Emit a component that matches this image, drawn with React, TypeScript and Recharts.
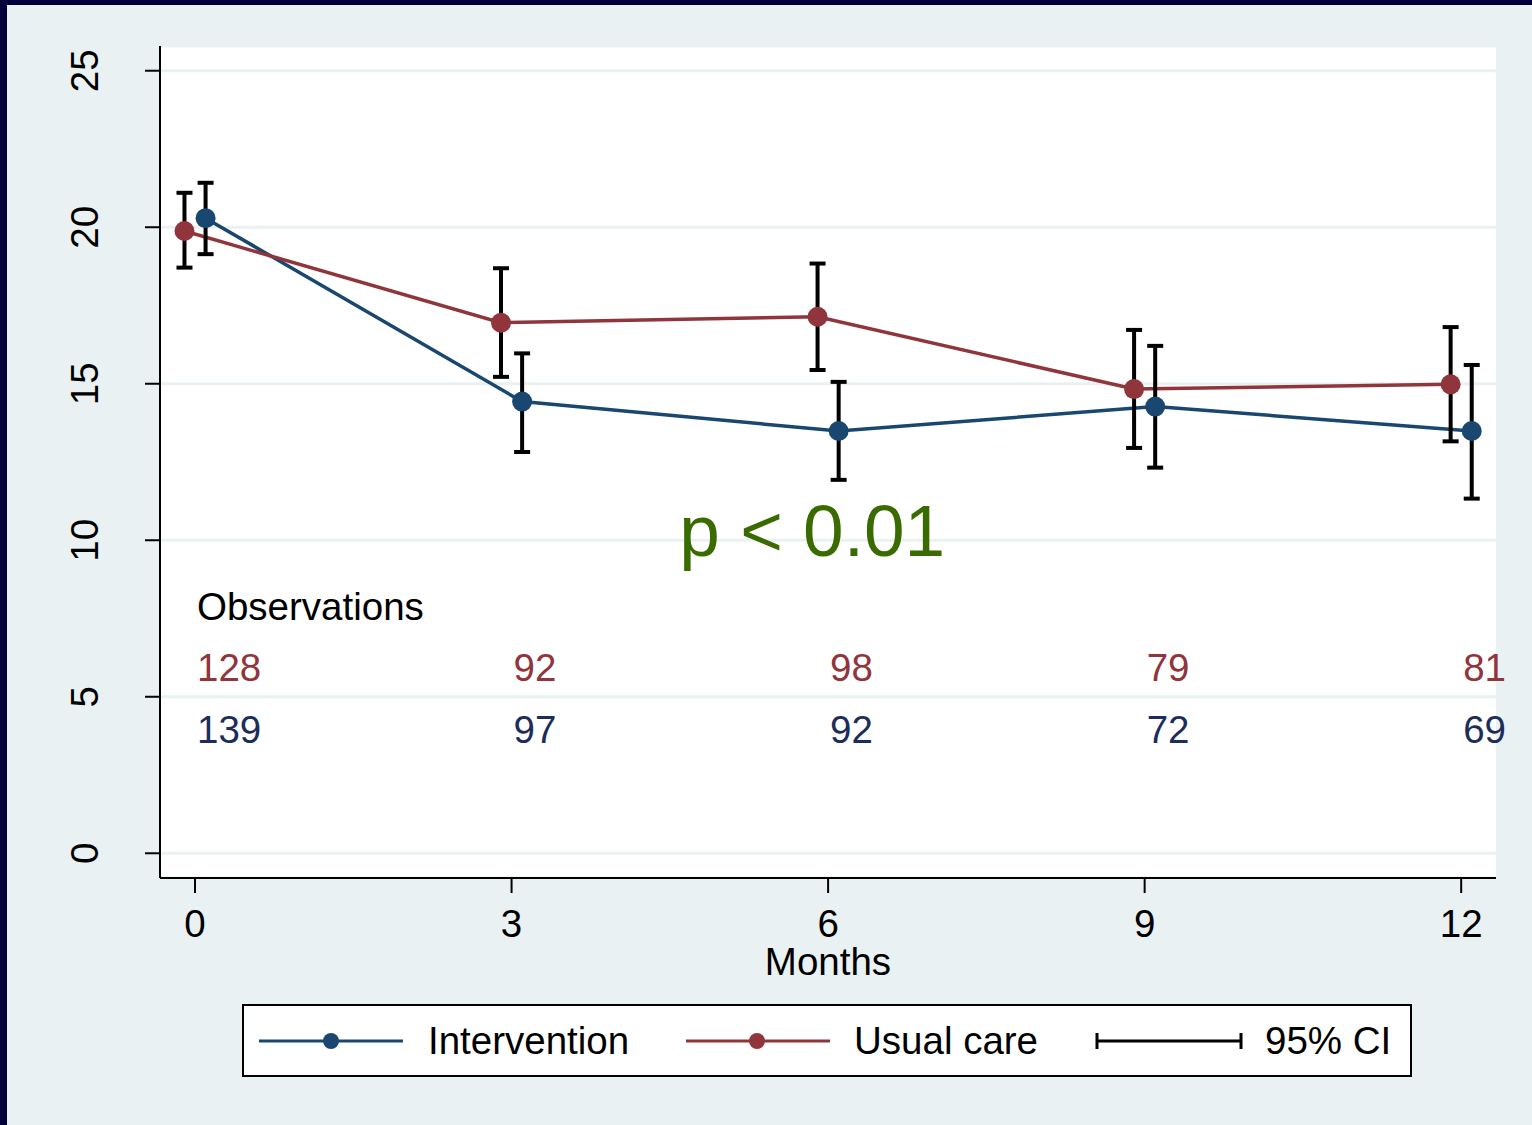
import React from "react";
import {
  ComposedChart,
  Line,
  Scatter,
  ErrorBar,
  XAxis,
  YAxis,
  CartesianGrid,
  Label,
} from "recharts";

// months on the axis
const months = [0, 3, 6, 9, 12];
const yTicks = [0, 5, 10, 15, 20, 25];

// Intervention (drawn slightly right of each month)
const interventionX = [0.1, 3.1, 6.1, 9.1, 12.1];
const interventionMean = [20.29, 14.43, 13.49, 14.27, 13.49];
const interventionLow = [19.14, 12.82, 11.93, 12.32, 11.33];
const interventionHigh = [21.42, 15.97, 15.06, 16.21, 15.6];
const interventionObs = [139, 97, 92, 72, 69];

// Usual care (drawn slightly left of each month)
const usualX = [-0.1, 2.9, 5.9, 8.9, 11.9];
const usualMean = [19.88, 16.95, 17.14, 14.83, 14.98];
const usualLow = [18.71, 15.22, 15.44, 12.95, 13.16];
const usualHigh = [21.1, 18.69, 18.84, 16.72, 16.81];
const usualObs = [128, 92, 98, 79, 81];

const BLUE = "#1a476f";
const RED = "#90353b";
const OBS_BLUE = "#1c2d5a";
const GREEN = "#3a6b00";
const BG = "#eaf1f3";
const FONT = "'Liberation Sans', Arial, sans-serif";
const FS = 38.5;

const buildSeries = (xs: number[], mean: number[], low: number[], high: number[]) =>
  xs.map((x, i) => ({
    x,
    y: mean[i],
    err: [mean[i] - low[i], high[i] - mean[i]],
  }));

const interventionData = buildSeries(interventionX, interventionMean, interventionLow, interventionHigh);
const usualData = buildSeries(usualX, usualMean, usualLow, usualHigh);

// text rows inside the plot
const usualObsRow = months.map((m, i) => ({ x: m, y: 5.5, label: String(usualObs[i]), color: RED }));
const interventionObsRow = months.map((m, i) => ({ x: m, y: 3.52, label: String(interventionObs[i]), color: OBS_BLUE }));
const headerRow = [{ x: 0, y: 7.45, label: "Observations", color: "#000" }];
const pValueRow = [{ x: 5.85, y: 9.5, label: "p < 0.01", color: GREEN }];

const TextMark = (props: any) => {
  const { cx, cy, payload } = props;
  return (
    <text x={cx + 2} y={cy} fill={payload.color} fontSize={FS} fontFamily={FONT}>
      {payload.label}
    </text>
  );
};

const BigText = (props: any) => {
  const { cx, cy, payload } = props;
  return (
    <text x={cx} y={cy} fill={payload.color} fontSize={73} fontFamily={FONT} textAnchor="middle">
      {payload.label}
    </text>
  );
};

const XTick = (props: any) => {
  const { x, y, payload } = props;
  return (
    <text x={x} y={y + 42} textAnchor="middle" fontSize={FS} fontFamily={FONT} fill="#000">
      {payload.value}
    </text>
  );
};

const YTick = (props: any) => {
  const { x, y, payload } = props;
  const bx = x - 45;
  return (
    <text
      x={bx}
      y={y}
      textAnchor="middle"
      fontSize={FS}
      fontFamily={FONT}
      fill="#000"
      transform={`rotate(-90, ${bx}, ${y})`}
    >
      {payload.value}
    </text>
  );
};

const Legend = () => (
  <div
    style={{
      position: "absolute",
      left: 242,
      top: 1004,
      width: 1170,
      height: 73,
      boxSizing: "border-box",
      border: "2px solid #000",
      background: "#fff",
    }}
  >
    <svg width={1166} height={69} style={{ position: "absolute", left: 0, top: 0 }}>
      <line x1={15} x2={159} y1={35} y2={35} stroke={BLUE} strokeWidth={3} />
      <circle cx={87} cy={35} r={8} fill={BLUE} />
      <text x={184} y={48} fontSize={FS} fontFamily={FONT} fill="#000">Intervention</text>
      <line x1={442} x2={586} y1={35} y2={35} stroke={RED} strokeWidth={3} />
      <circle cx={513} cy={35} r={8} fill={RED} />
      <text x={610} y={48} fontSize={FS} fontFamily={FONT} fill="#000">Usual care</text>
      <line x1={853} x2={997} y1={35} y2={35} stroke="#000" strokeWidth={3} />
      <line x1={853} x2={853} y1={27} y2={43} stroke="#000" strokeWidth={3} />
      <line x1={997} x2={997} y1={27} y2={43} stroke="#000" strokeWidth={3} />
      <text x={1021} y={48} fontSize={FS} fontFamily={FONT} fill="#000">95% CI</text>
    </svg>
  </div>
);

export default function App() {
  return (
    <div style={{ position: "absolute", left: 0, top: 0, width: 1532, height: 1125, background: "#00003c" }}>
      <div style={{ position: "absolute", left: 7, top: 5, width: 1525, height: 1120, background: BG }} />
      <div style={{ position: "absolute", left: 0, top: 0 }}>
        <ComposedChart width={1532} height={1125} margin={{ top: 46, right: 36, left: 0, bottom: 147 }}>
          <CartesianGrid vertical={false} stroke={BG} strokeWidth={3} fill="#fff" />
          <XAxis
            type="number"
            dataKey="x"
            domain={[-0.332, 12.33]}
            ticks={months}
            tickSize={15}
            height={100}
            stroke="#000"
            strokeWidth={2}
            tick={<XTick />}
            tickLine={{ stroke: "#000", strokeWidth: 2 }}
          >
            <Label
              content={(p: any) => {
                const vb = p.viewBox;
                return (
                  <text x={vb.x + vb.width / 2} y={vb.y + 97} textAnchor="middle" fontSize={FS} fontFamily={FONT} fill="#000">
                    Months
                  </text>
                );
              }}
            />
          </XAxis>
          <YAxis
            type="number"
            domain={[-0.79, 25.79]}
            ticks={yTicks}
            width={160}
            tickSize={15}
            stroke="#000"
            strokeWidth={2}
            tick={<YTick />}
            tickLine={{ stroke: "#000", strokeWidth: 2 }}
          />
          <Line
            data={interventionData}
            dataKey="y"
            type="linear"
            stroke={BLUE}
            strokeWidth={3.5}
            dot={{ r: 10, fill: BLUE, stroke: "none" }}
            activeDot={false}
            isAnimationActive={false}
          />
          <Line
            data={usualData}
            dataKey="y"
            type="linear"
            stroke={RED}
            strokeWidth={3.5}
            dot={{ r: 10, fill: RED, stroke: "none" }}
            activeDot={false}
            isAnimationActive={false}
          />
          <Scatter data={interventionData} dataKey="y" shape={() => <g />} isAnimationActive={false}>
            <ErrorBar dataKey="err" direction="y" width={8} strokeWidth={4} stroke="#000" isAnimationActive={false} />
          </Scatter>
          <Scatter data={usualData} dataKey="y" shape={() => <g />} isAnimationActive={false}>
            <ErrorBar dataKey="err" direction="y" width={8} strokeWidth={4} stroke="#000" isAnimationActive={false} />
          </Scatter>
          <Scatter data={headerRow} dataKey="y" shape={TextMark} isAnimationActive={false} />
          <Scatter data={usualObsRow} dataKey="y" shape={TextMark} isAnimationActive={false} />
          <Scatter data={interventionObsRow} dataKey="y" shape={TextMark} isAnimationActive={false} />
          <Scatter data={pValueRow} dataKey="y" shape={BigText} isAnimationActive={false} />
        </ComposedChart>
      </div>
      <Legend />
    </div>
  );
}
